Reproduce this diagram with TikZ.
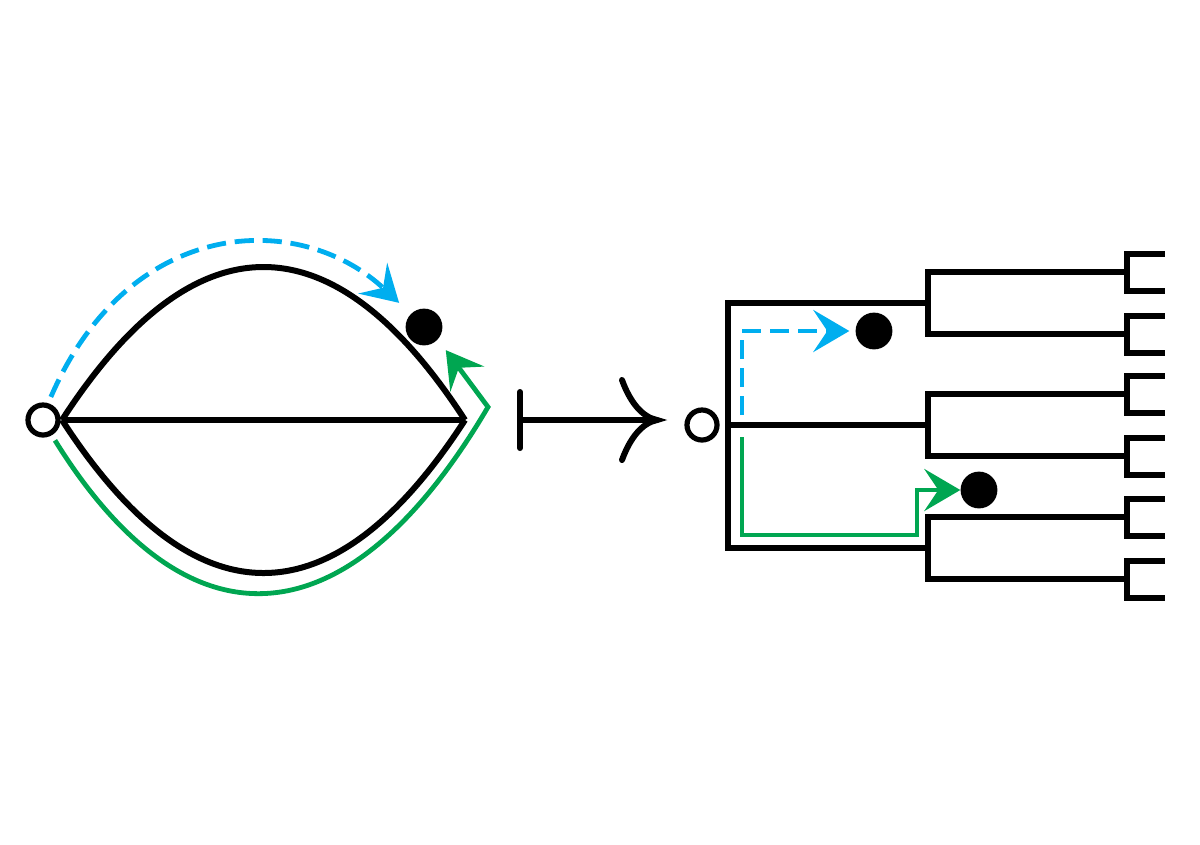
\documentclass[tikz,border=0pt]{standalone}
\usepackage{tikz}
\usetikzlibrary{arrows.meta}
\definecolor{walkblue}{RGB}{0,174,239}
\definecolor{walkgreen}{RGB}{0,166,81}
\tikzset{
  thickline/.style={line width=0.15cm, line join=miter},
  mapline/.style={line width=0.15cm, line cap=round},
  srcnode/.style={circle, draw, line width=0.13cm, minimum size=0.75cm, inner sep=0pt, fill=white},
  dotnode/.style={circle, fill=black, minimum size=0.92cm, inner sep=0pt},
  walk/.style={line width=0.12cm, line join=miter, -{Stealth[length=0.9cm, width=1.05cm, inset=0.35cm]}},
  bluewalk/.style={walk, walkblue, dash pattern=on 0.48cm off 0.22cm},
  greenwalk/.style={walk, walkgreen},
}
\begin{document}
\begin{tikzpicture}[x=0.025cm, y=-0.025cm]
\useasboundingbox (0,0) rectangle (1200,844);
\pgfmathsetmacro{\xroot}{728}   % root bar of the tree
\pgfmathsetmacro{\xmid}{928}    % second level bars
\pgfmathsetmacro{\xleaf}{1127}  % third level bars
\pgfmathsetmacro{\half}{18.5}   % half height of a leaf bracket
% Left graph
\coordinate (lv) at (62,420);
\coordinate (rv) at (465,420);
\draw[thickline] (lv) .. controls (194,216) and (333,216) .. (rv);
\draw[thickline] (lv) .. controls (194,624) and (333,624) .. (rv);
\draw[thickline] (lv) -- (rv);
\node[srcnode] (lsrc) at (43,420) {};
\node[dotnode] (ldot) at (424,327) {};
\coordinate (gcorner) at (488,407);
% Walks on the left
\draw[bluewalk, shorten <=0.17cm, shorten >=0.4cm] (lsrc.73) .. controls (130,215) and (300,210) .. (ldot.135);
\draw[greenwalk, shorten <=0.15cm, shorten >=0.33cm] (lsrc.-60) .. controls (185,650) and (345,650) .. (gcorner) -- (ldot.-42);
% Maps-to sign
\coordinate (mapfrom) at (520,420);
\coordinate (mapto) at (657,420);
\draw[mapline] (mapfrom) -- (mapto);
\draw[mapline] ([yshift=0.7cm]mapfrom) -- ([yshift=-0.7cm]mapfrom);
\draw[mapline] ([shift={(-35,-40)}]mapto) .. controls +(8,22) and +(-15,-3) .. (mapto)
  .. controls +(-15,3) and +(8,-22) .. ([shift={(-35,40)}]mapto);
% Tree
\node[srcnode] (rsrc) at (702,425) {};
\coordinate (root) at (\xroot,425);
\foreach \i/\y in {1/303, 2/425, 3/548}
  \coordinate (c\i) at (\xmid,\y);
\foreach \j/\y in {1/272, 2/334, 3/394, 4/456, 5/517, 6/579} {
  \coordinate (g\j) at (\xleaf,\y);
  \draw[thickline] (g\j) |- ++(38,-\half);
  \draw[thickline] (g\j) |- ++(38,\half);
}
\draw[thickline] (root) |- (c1);
\draw[thickline] (root) -- (c2);
\draw[thickline] (root) |- (c3);
\foreach \i/\a/\b in {1/1/2, 2/3/4, 3/5/6} {
  \draw[thickline] (c\i) |- (g\a);
  \draw[thickline] (c\i) |- (g\b);
}
\node[dotnode] (rdot1) at (874,331) {};
\node[dotnode] (rdot2) at (979,490) {};
\coordinate (gturn) at (917,535);
% Walks on the tree
\draw[bluewalk, shorten >=0.15cm] ([shift={(14,-10)}]root) |- (rdot1.west);
\draw[greenwalk] ([shift={(14,12)}]root) |- (gturn) |- (rdot2.west);
\end{tikzpicture}
\end{document}
